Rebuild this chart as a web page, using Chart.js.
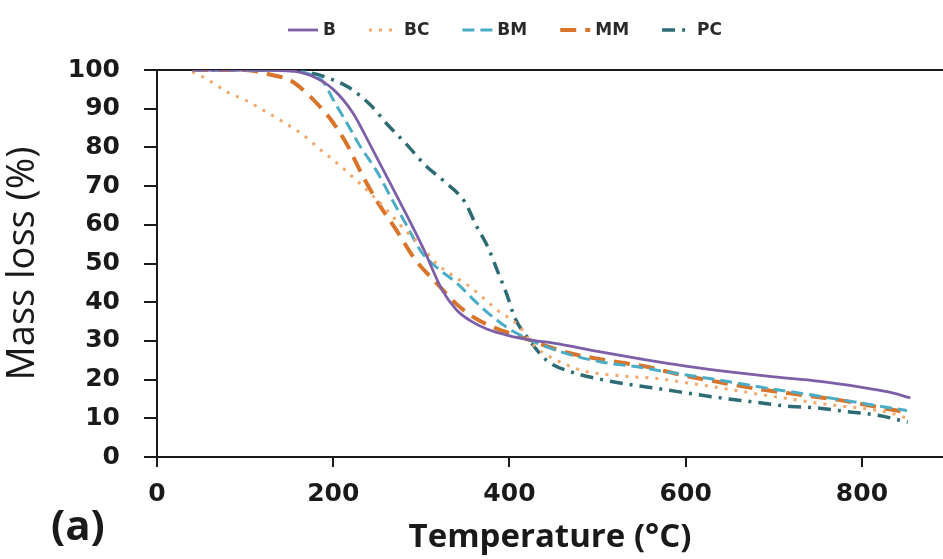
<!DOCTYPE html>
<html lang="en">

<head>
    <meta charset="UTF-8">
    <meta name="viewport" content="width=device-width, initial-scale=1.0">
    <title>TGA mass loss</title>
    <script src="https://cdn.jsdelivr.net/npm/chart.js"></script>
    <style>
        html, body { margin: 0; padding: 0; background: #fff; }
        #wrap { width: 943px; height: 559px; }
    </style>
</head>

<body>
    <div id="wrap"><canvas id="canvas"></canvas></div>

    <script type="text/javascript">
        // temperature (°C) / mass (%) pairs for each sample
        const B_T  = [40, 100, 150, 175, 200, 222, 240, 256, 280, 302, 324, 340, 355, 375, 400, 425, 450, 500, 550, 600, 650, 700, 750, 800, 830, 855];
        const B_M  = [100, 100, 99.8, 98.5, 95, 89, 81.5, 74.5, 64, 54, 43, 38, 35.3, 33, 31.3, 30.2, 29.4, 27.3, 25.3, 23.5, 22, 20.7, 19.6, 18, 16.8, 15.3];

        const BC_T = [40, 54, 79, 102, 120, 143, 166, 185, 204, 219, 238, 260, 280, 300, 317, 335, 355, 386, 412, 427, 445, 461, 483, 525, 571, 600, 635, 684, 730, 767, 797, 830, 852];
        const BC_M = [99.5, 98, 94.4, 92, 89.7, 86.6, 83.2, 79.5, 76, 73, 69, 64, 59, 54.5, 50, 47, 44, 38, 33.6, 29, 26, 24.2, 22.3, 21, 20.2, 19.2, 18, 16.2, 14.6, 13.4, 12.7, 11.5, 10];

        const BM_T = [40, 150, 175, 187, 202, 215, 230, 249, 268, 283, 300, 320, 340, 363, 385, 404, 450, 503, 548, 578, 635, 692, 744, 797, 851];
        const BM_M = [100, 99.8, 98.8, 97.4, 91.5, 86.5, 80.5, 74, 66, 60, 53, 48.5, 45, 39.8, 35.5, 32.5, 27.8, 24.6, 23.2, 22, 20, 17.8, 16, 14, 12];

        const MM_T = [40, 100, 134, 150, 170, 185, 196, 215, 234, 250, 272, 293, 317, 340, 360, 381, 400, 423, 465, 510, 556, 593, 646, 684, 733, 775, 820, 852];
        const MM_M = [100, 100, 98.5, 97.5, 94, 90.5, 87.6, 81, 72.4, 66, 58.5, 51, 45, 39.5, 36, 33.6, 32, 30.2, 27, 25, 23.3, 21.3, 19, 17.5, 16, 14.7, 12.8, 11.5];

        const PC_T = [40, 150, 175, 196, 217, 242, 262, 284, 304, 327, 349, 363, 376, 386, 397, 406, 420, 442, 470, 505, 540, 574, 608, 642, 678, 712, 748, 784, 818, 852];
        const PC_M = [100, 100, 99.2, 97.8, 95.6, 91, 85.8, 80.6, 75.5, 71, 66, 59.5, 54, 48.3, 42, 36, 31, 25, 22, 20, 18.6, 17.5, 16.3, 15.2, 14.2, 13.2, 12.7, 11.7, 10.8, 9];

        const X_TICKS = [0, 200, 400, 600, 800];
        const PANEL_TAG = '(a)';

        const TITLE_FONT = "'Open Sans', 'DejaVu Sans', sans-serif";
        const TICK_FONT = "'DejaVu Sans', sans-serif";
        const INK = '#1a1a1a';

        function pts(t, m) {
            return t.map((v, i) => ({ x: v, y: m[i] }));
        }

        function series(label, t, m, color, width, dash) {
            return {
                label: label,
                data: pts(t, m),
                borderColor: color,
                backgroundColor: color,
                borderWidth: width,
                borderDash: dash,
                pointRadius: 0,
                fill: false,
                cubicInterpolationMode: 'monotone'
            };
        }

        // legend row drawn by hand so the line samples keep their dash pattern
        const legendRow = {
            id: 'legendRow',
            afterDraw(chart) {
                const ctx = chart.ctx;
                const sets = chart.data.datasets;
                const sample = 30, gapTxt = 5, gapItem = 33, y = 30;
                ctx.save();
                ctx.font = "bold 17px " + TICK_FONT;
                ctx.textBaseline = 'middle';
                let total = 0;
                sets.forEach(ds => { total += sample + gapTxt + ctx.measureText(ds.label).width; });
                total += gapItem * (sets.length - 1);
                let x = 505 - total / 2;
                sets.forEach(ds => {
                    ctx.strokeStyle = ds.borderColor;
                    ctx.lineWidth = ds.borderWidth;
                    ctx.setLineDash(ds.borderDash || []);
                    ctx.beginPath();
                    ctx.moveTo(x, y);
                    ctx.lineTo(x + sample, y);
                    ctx.stroke();
                    ctx.setLineDash([]);
                    x += sample + gapTxt;
                    ctx.fillStyle = '#2a2a2a';
                    ctx.fillText(ds.label, x, y + 1);
                    x += ctx.measureText(ds.label).width + gapItem;
                });
                ctx.restore();
            }
        };

        const panelTag = {
            id: 'panelTag',
            afterDraw(chart) {
                const ctx = chart.ctx;
                ctx.save();
                ctx.font = "bold 42px " + TITLE_FONT;
                ctx.fillStyle = INK;
                ctx.textBaseline = 'alphabetic';
                ctx.fillText(PANEL_TAG, 51, 540);
                ctx.restore();
            }
        };

        const config = {
            type: 'line',
            data: {
                datasets: [
                    series('B', B_T, B_M, '#7d5fa8', 2.8, []),
                    series('BC', BC_T, BC_M, '#f2a86a', 3, [3, 7]),
                    series('BM', BM_T, BM_M, '#4bacc6', 3, [12, 6]),
                    series('MM', MM_T, MM_M, '#d9752a', 4, [16, 9]),
                    series('PC', PC_T, PC_M, '#2d6b75', 3.5, [13, 7, 3, 7])
                ]
            },
            options: {
                responsive: true,
                maintainAspectRatio: false,
                animation: false,
                layout: { padding: { top: 70, left: 0, right: 0, bottom: 0 } },
                plugins: {
                    legend: { display: false },
                    tooltip: { enabled: false }
                },
                scales: {
                    x: {
                        type: 'linear',
                        position: 'bottom',
                        min: 0,
                        max: 892,
                        afterFit(scale) { scale.height = 102; },
                        afterBuildTicks(scale) { scale.ticks = X_TICKS.map(v => ({ value: v })); },
                        border: { display: true, color: INK, width: 2 },
                        grid: { display: true, drawOnChartArea: false, drawTicks: true, tickLength: 10, color: INK, lineWidth: 2 },
                        ticks: {
                            includeBounds: false,
                            color: INK,
                            padding: 12,
                            maxRotation: 0,
                            font: { family: TICK_FONT, size: 25, weight: 'bold' }
                        },
                        title: {
                            display: true,
                            text: 'Temperature (°C)',
                            color: INK,
                            padding: { top: 0, bottom: 2 },
                            font: { family: TITLE_FONT, size: 33, weight: 'bold' }
                        }
                    },
                    top: {
                        type: 'linear',
                        position: 'top',
                        min: 0,
                        max: 892,
                        afterFit(scale) { scale.height = 0; },
                        border: { display: true, color: INK, width: 2 },
                        grid: { display: false, drawTicks: false },
                        ticks: { display: false }
                    },
                    y: {
                        min: 0,
                        max: 100,
                        afterFit(scale) { scale.width = 157; },
                        border: { display: true, color: INK, width: 2 },
                        grid: { display: true, drawOnChartArea: false, drawTicks: true, tickLength: 13, color: INK, lineWidth: 2 },
                        ticks: {
                            stepSize: 10,
                            color: INK,
                            padding: 24,
                            font: { family: TICK_FONT, size: 25, weight: 'bold' }
                        },
                        title: {
                            display: true,
                            text: 'Mass loss (%)',
                            color: INK,
                            padding: { top: 0, bottom: 0 },
                            font: { family: TITLE_FONT, size: 38, weight: 'normal' }
                        }
                    }
                }
            },
            plugins: [legendRow, panelTag]
        };

        const ctx = document.getElementById('canvas').getContext('2d');
        const myChart = new Chart(ctx, config);
    </script>
</body>

</html>
